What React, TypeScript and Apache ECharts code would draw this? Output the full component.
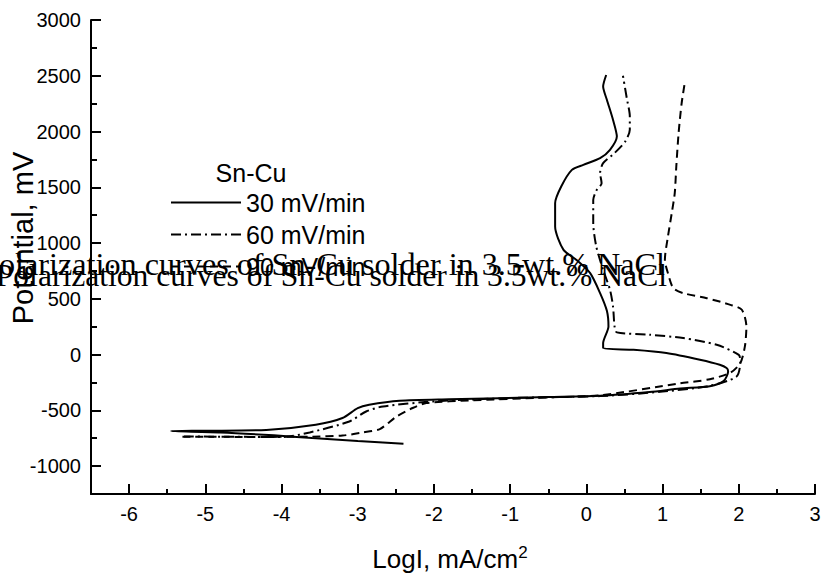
import React, { useEffect, useRef } from 'react';
import * as echarts from 'echarts';

const seriesNames = ['30 mV/min', '60 mV/min', '90 mV/min'];
const legendTitle = 'Sn-Cu';
const chartTitle = 'Polarization curves of Sn-Cu solder in 3.5wt.% NaCl';
const xAxisTitle = 'LogI, mA/cm';
const xAxisTitleSup = '2';
const yAxisTitle = 'Potential, mV';
const xMajorTicks = [-6, -5, -4, -3, -2, -1, 0, 1, 2, 3];
const yMajorTicks = [-1000, -500, 0, 500, 1000, 1500, 2000, 2500, 3000];

const curve30: [number, number][] = [
  [-2.4, -800], [-3.0, -775], [-3.6, -748], [-4.1, -724], [-4.8, -698], [-5.45, -686],
  [-5.0, -683], [-4.2, -676], [-3.55, -629], [-3.2, -569], [-3.0, -480], [-2.85, -450],
  [-2.45, -414], [-1.8, -401], [-0.5, -381], [0.18, -370], [0.83, -336], [1.23, -305],
  [1.62, -283], [1.8, -238], [1.86, -151], [1.84, -121], [1.75, -91], [1.49, -46],
  [1.05, 14], [0.62, 43], [0.22, 58], [0.22, 103], [0.29, 252], [0.27, 390],
  [0.18, 551], [0.05, 730], [-0.13, 849], [-0.3, 939], [-0.41, 1148], [-0.41, 1358],
  [-0.33, 1507], [-0.19, 1656], [-0.04, 1701], [0.18, 1761], [0.31, 1836], [0.4, 1955],
  [0.35, 2104], [0.27, 2283], [0.22, 2403], [0.26, 2507],
];

const curve60: [number, number][] = [
  [-5.28, -734], [-4.6, -737], [-3.98, -739], [-3.63, -698], [-3.11, -600], [-2.89, -510],
  [-2.67, -465], [-2.01, -420], [-1.0, -390], [0.18, -372], [1.0, -332], [1.6, -282],
  [1.97, -197], [2.02, -62], [2.0, -2], [1.71, 88], [1.27, 148], [0.83, 178],
  [0.4, 199], [0.37, 252], [0.35, 431], [0.31, 581], [0.22, 760], [0.13, 969],
  [0.09, 1178], [0.09, 1387], [0.13, 1470], [0.2, 1537], [0.18, 1627], [0.22, 1716],
  [0.37, 1807], [0.51, 1911], [0.57, 2016], [0.57, 2136], [0.53, 2300], [0.48, 2500],
];

const curve90: [number, number][] = [
  [-5.3, -736], [-4.5, -738], [-3.6, -736], [-3.2, -726], [-2.93, -698], [-2.71, -668],
  [-2.49, -555], [-2.28, -479], [-2.1, -435], [-1.5, -410], [-0.5, -384], [0.18, -365],
  [1.23, -258], [1.62, -221], [1.89, -162], [2.02, -76], [2.08, 73], [2.1, 252],
  [2.04, 402], [1.89, 446], [1.58, 506], [1.27, 551], [1.14, 596], [1.07, 730],
  [1.03, 849], [1.07, 1058], [1.12, 1267], [1.16, 1450], [1.18, 1686], [1.21, 1985],
  [1.25, 2253], [1.29, 2433],
];

const curves = [curve30, curve60, curve90];
const dashStyles: any[] = ['solid', [10, 4, 2, 4], [8, 5]];

const SANS = 'Liberation Sans, Arial, sans-serif';
const SERIF = 'Liberation Serif, Times New Roman, serif';

export default function App() {
  const ref = useRef<HTMLDivElement>(null);
  useEffect(() => {
    if (!ref.current) return;
    const chart = echarts.init(ref.current, undefined, { renderer: 'svg' });
    const axisLine = { show: true, onZero: false, lineStyle: { color: '#000', width: 2 } };
    const plain = (v: number) => String(v);
    const option: any = {
      animation: false,
      backgroundColor: '#fff',
      grid: { left: 91, top: 20, right: 12, bottom: 85, containLabel: false },
      legend: {
        orient: 'vertical',
        left: 170,
        top: 190,
        padding: 0,
        itemWidth: 70,
        itemHeight: 14,
        itemGap: 7,
        data: seriesNames,
        itemStyle: { opacity: 0 },
        textStyle: { fontSize: 25, fontFamily: SANS, color: '#000', lineHeight: 25 },
      },
      xAxis: [
        {
          type: 'value', min: -6.5, max: 3, position: 'bottom',
          axisLine,
          axisTick: { show: true, inside: true, length: 10, customValues: xMajorTicks, lineStyle: { color: '#000', width: 2 } },
          axisLabel: { show: true, customValues: xMajorTicks, formatter: plain, margin: 10, fontSize: 20, fontFamily: SANS, color: '#000' },
          splitLine: { show: false },
        },
        {
          type: 'value', min: -6.5, max: 3, interval: 0.5, position: 'bottom',
          axisLine: { show: false, onZero: false },
          axisTick: { show: true, inside: true, length: 5, lineStyle: { color: '#000', width: 2 } },
          axisLabel: { show: false },
          splitLine: { show: false },
        },
      ],
      yAxis: [
        {
          type: 'value', min: -1250, max: 3000, position: 'left',
          axisLine,
          axisTick: { show: true, inside: true, length: 10, customValues: yMajorTicks, lineStyle: { color: '#000', width: 2 } },
          axisLabel: { show: true, customValues: yMajorTicks, formatter: plain, margin: 10, fontSize: 20, fontFamily: SANS, color: '#000' },
          splitLine: { show: false },
        },
        {
          type: 'value', min: -1250, max: 3000, interval: 250, position: 'left',
          axisLine: { show: false, onZero: false },
          axisTick: { show: true, inside: true, length: 6, lineStyle: { color: '#000', width: 2 } },
          axisLabel: { show: false },
          splitLine: { show: false },
        },
      ],
      series: seriesNames.map((name, i) => ({
        name,
        type: 'line',
        xAxisIndex: 0,
        yAxisIndex: 0,
        data: curves[i],
        symbol: 'none',
        smooth: 0.25,
        lineStyle: { color: '#000', width: 2, type: dashStyles[i] },
        itemStyle: { color: '#000' },
      })),
      graphic: [
        {
          type: 'text', x: 251, y: 173,
          style: { text: legendTitle, fontSize: 25, fontFamily: SANS, fill: '#000', align: 'center', verticalAlign: 'middle' },
        },
        {
          type: 'text', x: 23, y: 238, rotation: Math.PI / 2,
          style: { text: yAxisTitle, fontSize: 29, fontFamily: SANS, fill: '#000', align: 'center', verticalAlign: 'middle' },
        },
        {
          type: 'text', x: 450, y: 559,
          style: {
            text: '{a|' + xAxisTitle + '}{b|' + xAxisTitleSup + '}',
            align: 'center', verticalAlign: 'middle',
            rich: {
              a: { fontSize: 26, fontFamily: SANS, fill: '#000', color: '#000', lineHeight: 30 },
              b: { fontSize: 17, fontFamily: SANS, fill: '#000', color: '#000', lineHeight: 30, padding: [0, 0, 14, 0] },
            },
          },
        },
        {
          type: 'text', x: 665, y: 264,
          style: { text: chartTitle, fontSize: 32.2, fontFamily: SERIF, fill: '#000', align: 'right', verticalAlign: 'middle' },
        },
        {
          type: 'text', x: 667, y: 275,
          style: { text: chartTitle, fontSize: 31.6, fontFamily: SERIF, fill: '#000', align: 'right', verticalAlign: 'middle' },
        },
      ],
    };
    chart.setOption(option);
    return () => chart.dispose();
  }, []);
  return (
    <div
      ref={ref}
      style={{ position: 'fixed', left: 0, top: 0, width: 827, height: 579, background: '#fff' }}
    />
  );
}
